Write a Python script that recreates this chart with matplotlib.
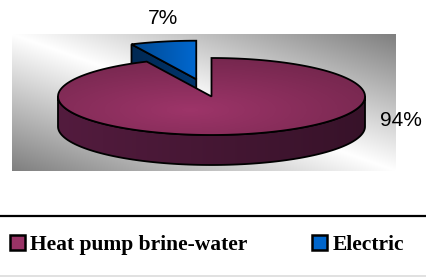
import numpy as np
import matplotlib.pyplot as plt
from matplotlib.patches import Polygon, Patch
from matplotlib.colors import to_rgb

# chart data
labels = ["Heat pump brine-water", "Electric"]
shares = [94, 7]
pct_labels = ["94%", "7%"]
top_colors = ["#993366", "#0066cc"]
side_colors = ["#4f1a3b", "#00366e"]
explode = [0.0, 0.46]

W, H = 427, 277
fig = plt.figure(figsize=(W / 100, H / 100), dpi=100)
ax = fig.add_axes([0, 0, 1, 1])

# pie geometry in pixels
cx, cy, rx, ry, depth = 211.5, 96.5, 153.5, 38.5, 30


def ell(a_deg, dx=0.0, dy=0.0, z=0.0):
    a = np.radians(a_deg)
    return np.column_stack([cx + rx * np.cos(a) + dx, cy - ry * np.sin(a) + dy + z])


def shaded(patch, base, func, ext, zorder):
    x0, x1, y0, y1 = ext
    xs = np.linspace(x0, x1, 120)
    ys = np.linspace(y0, y1, 80)
    X, Y = np.meshgrid(xs, ys)
    f = np.clip(func(X, Y), 0, 1.3)
    img = np.clip(np.array(to_rgb(base))[None, None, :] * f[..., None], 0, 1)
    im = ax.imshow(img, extent=(x0, x1, y1, y0), origin="upper", aspect="auto",
                   interpolation="bilinear", zorder=zorder)
    im.set_clip_path(patch)


# background box with diagonal gradient
bx0, bx1, by0, by1 = 12, 396, 34, 171
u = np.linspace(0, 1, 200)[None, :]
v = np.linspace(0, 1, 120)[:, None]
g = 1 - 0.5 * np.abs(u - v)
ax.imshow(np.dstack([g, g, g]), extent=(bx0, bx1, by1, by0), origin="upper",
          aspect="auto", interpolation="bilinear", zorder=0)

# slice angles, starting at 12 o'clock, counter-clockwise for Electric
total = sum(shares)
span = [360 * s / total for s in shares]
e0, e1 = 90, 90 + span[1]          # Electric
m0, m1 = e1, 450                   # Heat pump

# exploded Electric slice
mid = np.radians((e0 + e1) / 2)
dx = explode[1] * rx * np.cos(mid)
dy = -explode[1] * ry * np.sin(mid)
tip = np.array([[cx + dx, cy + dy]])
outer = ell(np.array([e1]), dx, dy)
cut = np.vstack([tip, outer, outer + [0, depth], tip + [0, depth]])
p = Polygon(cut, closed=True, fc="none", ec="black", lw=1.3, zorder=2.1)
ax.add_patch(p)
shaded(p, side_colors[1], lambda X, Y: 0.75 + 0.25 * (X - 130) / 70, (120, 210, 30, 120), 2)

arc = ell(np.linspace(e0, e1, 40), dx, dy)
p = Polygon(np.vstack([tip, arc]), closed=True, fc="none", ec="black", lw=1.3, zorder=3.1)
ax.add_patch(p)
shaded(p, top_colors[1], lambda X, Y: 0.7 + 0.32 * (X - 130) / 66, (120, 210, 30, 90), 3)

# main slice: front wall then top face
a = np.linspace(180, 360, 120)
wall = np.vstack([ell(a), ell(a[::-1], z=depth)])
p = Polygon(wall, closed=True, fc="none", ec="black", lw=1.3, zorder=4.1)
ax.add_patch(p)
shaded(p, side_colors[0], lambda X, Y: 1.05 - 0.35 * (X - 58) / 307, (50, 370, 90, 170), 4)

arc = ell(np.linspace(m0, m1, 300))
top = np.vstack([[[cx, cy]], arc])
p = Polygon(top, closed=True, fc="none", ec="black", lw=1.3, zorder=5.1)
ax.add_patch(p)
shaded(p, top_colors[0],
       lambda X, Y: 1.03 - 0.22 * np.sqrt(((X - 190) / 175) ** 2 + ((Y - 110) / 45) ** 2),
       (50, 370, 50, 140), 5)

# percentage labels
ax.text(401, 121, pct_labels[0], fontsize=15, family="Liberation Sans",
        ha="center", va="center", zorder=6)
ax.text(163, 18, pct_labels[1], fontsize=15, family="Liberation Sans",
        ha="center", va="center", zorder=6)

# separator lines
ax.plot([0, W], [216, 216], color="black", lw=1.6, zorder=6)
ax.plot([0, W], [276, 276], color="#dcdcdc", lw=1.2, zorder=6)

handles = [Patch(facecolor=c, edgecolor="black", linewidth=1.8) for c in top_colors]
ax.legend(handles, labels, loc="center left", bbox_to_anchor=(10, 245),
          bbox_transform=ax.transData, ncol=2, frameon=False,
          prop={"family": "Liberation Serif", "weight": "bold", "size": 15.5},
          handlelength=0.7, handleheight=0.7, handletextpad=0.25,
          columnspacing=3.0, borderpad=0, borderaxespad=0)

ax.set_xlim(0, W)
ax.set_ylim(H, 0)
ax.axis("off")

plt.savefig("out.png", dpi=100)
